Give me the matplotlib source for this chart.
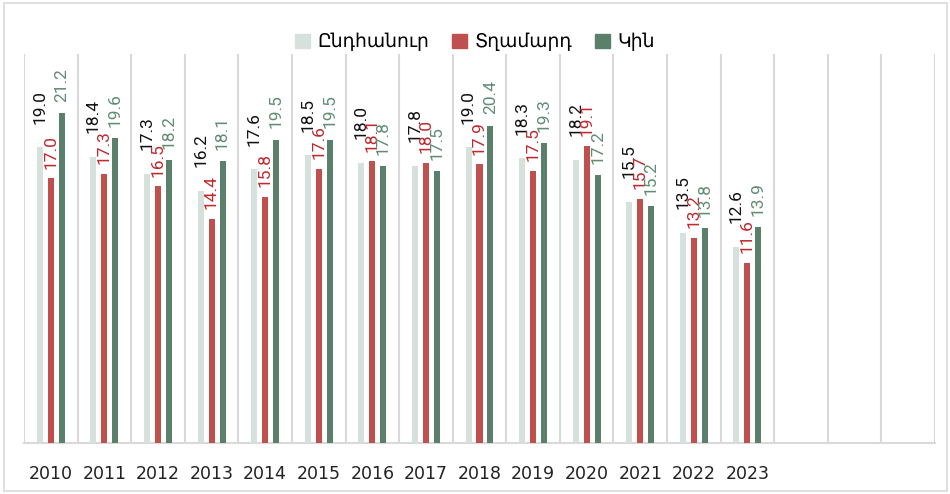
import numpy as np
import matplotlib.pyplot as plt
from matplotlib.patches import Rectangle, Patch

plt.rcParams['font.family'] = ['Roboto', 'DejaVu Sans']

# Data
years = ['2010', '2011', '2012', '2013', '2014', '2015', '2016',
         '2017', '2018', '2019', '2020', '2021', '2022', '2023']
total = [19.0, 18.4, 17.3, 16.2, 17.6, 18.5, 18.0, 17.8, 19.0, 18.3, 18.2, 15.5, 13.5, 12.6]
male = [17.0, 17.3, 16.5, 14.4, 15.8, 17.6, 18.1, 18.0, 17.9, 17.5, 19.1, 15.7, 13.2, 11.6]
female = [21.2, 19.6, 18.2, 18.1, 19.5, 19.5, 17.8, 17.5, 20.4, 19.3, 17.2, 15.2, 13.8, 13.9]
series_names = ['Ընդհանուր', 'Տղամարդ', 'Կին']
n_slots = 17  # axis has 3 empty categories after 2023

bar_colors = ['#D5E1DA', '#C0504D', '#5A7F6B']
label_colors = ['#111111', '#C0282D', '#5F8C72']
label_gap = [17, 7, 8]  # points between bar top and its label

fig = plt.figure(figsize=(9.5, 4.94), dpi=100)
ax = fig.add_axes([24 / 950, 51 / 494, 911 / 950, 389 / 494])

x = np.arange(len(years))
width = 0.112
offset = 0.205

for k, vals in enumerate([total, male, female]):
    pos = x + (k - 1) * offset
    ax.bar(pos, vals, width=width, color=bar_colors[k], zorder=3)
    for px_, v in zip(pos, vals):
        ax.annotate(f'{v:.1f}', (px_, v), xytext=(0, label_gap[k]), textcoords='offset points',
                    rotation=90, ha='center', va='bottom', fontsize=12.5,
                    color=label_colors[k], zorder=4)

ax.set_xlim(-0.5, n_slots - 0.5)
ax.set_ylim(0, 25)
ax.set_yticks([])

# category separators
for b in np.arange(-0.5, n_slots, 1.0):
    ax.axvline(b, color='#D9D9D9', lw=1.5, zorder=1)

ax.set_xticks(x)
ax.set_xticklabels(years, fontsize=12.5, color='#222222', family='DejaVu Sans')
ax.tick_params(axis='x', length=0, pad=16)
for s in ['top', 'left', 'right']:
    ax.spines[s].set_visible(False)
ax.spines['bottom'].set_color('#D9D9D9')
ax.spines['bottom'].set_linewidth(1.5)

handles = [Patch(color=c) for c in bar_colors]
fig.legend(handles, series_names, loc='center', bbox_to_anchor=(0.5, 1 - 42 / 494),
           ncol=3, frameon=False, fontsize=13.5, handlelength=0.8, handleheight=0.8,
           handletextpad=0.4, columnspacing=1.2)

fig.patches.append(Rectangle((4 / 950, 3 / 494), 943 / 950, 488 / 494, transform=fig.transFigure,
                             fill=False, edgecolor='#D9D9D9', lw=1.2))

fig.savefig('out.png', dpi=100)
